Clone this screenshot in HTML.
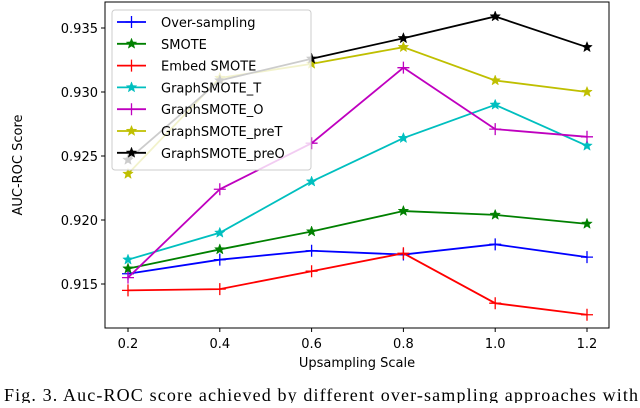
<!DOCTYPE html>
<html><head><meta charset="utf-8"><style>
body{margin:0;background:#fff;width:640px;height:403px;overflow:hidden}
svg text{font-family:"DejaVu Sans","Liberation Sans",sans-serif}
</style></head><body>
<svg id="c" width="640" height="403" xmlns="http://www.w3.org/2000/svg"></svg>
<script>
const xValues=[0.2,0.4,0.6,0.8,1.0,1.2];
const xTicks=["0.2","0.4","0.6","0.8","1.0","1.2"];
const yTicks=[0.915,0.920,0.925,0.930,0.935];
const yTickLabels=["0.915","0.920","0.925","0.930","0.935"];
const seriesNames=["Over-sampling","SMOTE","Embed SMOTE","GraphSMOTE_T","GraphSMOTE_O","GraphSMOTE_preT","GraphSMOTE_preO"];
const overSampling=[0.9158,0.9169,0.9176,0.9173,0.9181,0.9171];
const smote=[0.9162,0.9177,0.9191,0.9207,0.9204,0.9197];
const embedSmote=[0.9145,0.9146,0.9160,0.9174,0.9135,0.9126];
const graphT=[0.9169,0.9190,0.9230,0.9264,0.9290,0.9258];
const graphO=[0.9155,0.9224,0.9260,0.9319,0.9271,0.9265];
const graphPreT=[0.9236,0.9311,0.9322,0.9335,0.9309,0.9300];
const graphPreO=[0.9247,0.9309,0.9326,0.9342,0.9359,0.9335];
const seriesData=[overSampling,smote,embedSmote,graphT,graphO,graphPreT,graphPreO];
const colors=["#0000ff","#008000","#ff0000","#00bfbf","#bf00bf","#bfbf00","#000000"];
const markers=["plus","star","plus","star","plus","star","star"];
const NS="http://www.w3.org/2000/svg";
const svg=document.getElementById('c');
const L=105,R=609,T=2,B=328;
const xs=v=>128+(v-0.2)/1.0*459;
const ys=v=>284-(v-0.915)*12800;
function el(t,a,p){const e=document.createElementNS(NS,t);for(const k in a)e.setAttribute(k,a[k]);(p||svg).appendChild(e);return e;}
function star(x,y,r,c,p){let pts=[];for(let i=0;i<10;i++){const rr=i%2?r*0.42:r;const a=-Math.PI/2+i*Math.PI/5;pts.push((x+rr*Math.cos(a)).toFixed(1)+','+(y+rr*Math.sin(a)).toFixed(1));}
const e=el('polygon',{points:pts.join(' '),fill:c,stroke:c,'stroke-width':0.5},p);return e;}
function plus(x,y,r,c,p){return el('path',{d:`M${x-r},${y}H${x+r}M${x},${y-r}V${y+r}`,stroke:c,'stroke-width':1.3,fill:'none'},p);}
const frame=el('rect',{x:L,y:T,width:R-L,height:B-T,fill:'none',stroke:'#000','stroke-width':1});

xValues.forEach((v,i)=>{const x=xs(v);el('line',{x1:x,x2:x,y1:B,y2:B+4,stroke:'#000'});
const t=el('text',{x:x,y:B+20,'text-anchor':'middle','font-size':13});t.textContent=xTicks[i];
});
yTicks.forEach((v,i)=>{const y=ys(v);el('line',{x1:L-4,x2:L,y1:y,y2:y,stroke:'#000'});
const t=el('text',{x:L-7,y:y+5,'text-anchor':'end','font-size':13});t.textContent=yTickLabels[i];
});
const xt=el('text',{x:357,y:367,'text-anchor':'middle','font-size':13});xt.textContent='Upsampling Scale';

const yt=el('text',{x:0,y:0,'text-anchor':'middle','font-size':13,transform:'translate(22,165) rotate(-90)'});yt.textContent='AUC-ROC Score';

seriesData.forEach((d,s)=>{const g=el('g',{});


el('polyline',{points:d.map((v,i)=>xs(xValues[i])+','+ys(v)).join(' '),fill:'none',stroke:colors[s],'stroke-width':1.8},g);
d.forEach((v,i)=>{const x=xs(xValues[i]),y=ys(v);markers[s]=='star'?star(x,y,5.5,colors[s],g):plus(x,y,6,colors[s],g);});});
const lg=el('g',{});
el('rect',{x:112,y:10,width:199,height:160,rx:3,fill:'rgba(255,255,255,0.8)',stroke:'#ccc'},lg);
seriesNames.forEach((n,s)=>{const y=22+s*21.8;const e=el('g',{},lg);

el('line',{x1:117,x2:146,y1:y,y2:y,stroke:colors[s],'stroke-width':1.8},e);
markers[s]=='star'?star(131.5,y,5.5,colors[s],e):plus(131.5,y,6,colors[s],e);
const t=el('text',{x:161,y:y+5,'font-size':13},e);t.textContent=n;});
const cap=el('text',{x:4,y:401,'font-size':18,textLength:634,lengthAdjust:'spacing'});
cap.setAttribute('style','font-family:"Liberation Serif",serif');
cap.textContent='Fig. 3.  Auc-ROC score achieved by different over-sampling approaches with';

</script>
</body></html>
